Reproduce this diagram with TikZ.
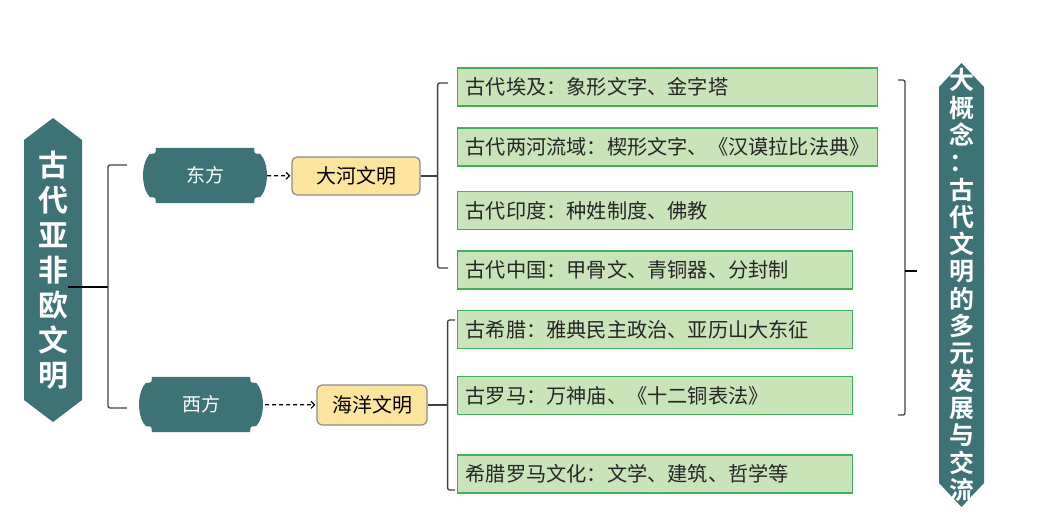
\documentclass[tikz,border=0pt]{standalone}
\usepackage{fontspec}
\setmainfont{Noto Sans CJK SC}[BoldFont=* Bold]
\usepackage{tikz}
\usetikzlibrary{calc,backgrounds,arrows.meta}
\definecolor{tealbg}{HTML}{3D7377}
\definecolor{boxyellow}{HTML}{FDE59E}
\definecolor{boxgreen}{HTML}{C9E4B9}
\definecolor{edgegreen}{HTML}{45AD5E}

\begin{document}
\begin{tikzpicture}[x=1pt,y=-1pt,>={Straight Barb[length=3.5pt,width=7pt]},
    title/.style={text=white,font=\bfseries\fontsize{30}{35}\selectfont,align=center,inner sep=0pt},
    plaque/.style={text=white,font=\fontsize{19}{19}\selectfont,minimum width=110pt,minimum height=55pt,inner sep=0pt},
    civ/.style={draw=black!45,fill=boxyellow,rounded corners=5pt,line width=1.2pt,font=\fontsize{20}{20}\selectfont,minimum height=38pt,inner sep=0pt},
    fact/.style={draw=edgegreen,fill=boxgreen,line width=1.2pt,font=\fontsize{20.2}{21}\selectfont,minimum height=38pt,inner xsep=8pt,inner ysep=0pt,align=left,text=black!85},
    link/.style={line width=1.3pt,draw=black!75,rounded corners=2pt},
    stub/.style={line width=2.5pt},
    flow/.style={line width=1.2pt,dash pattern=on 4pt off 3pt,->}
  ]
  \useasboundingbox (0,0) rectangle (1040,523);

  % Titles on both sides
  \node[title] (ttl) at (53,270) {古\\代\\亚\\非\\欧\\文\\明};
  \node[title,font=\bfseries\fontsize{25}{27.3}\selectfont] (big) at (961.5,285)
    {大\\概\\念\\：\\古\\代\\文\\明\\的\\多\\元\\发\\展\\与\\交\\流};

  % East and west
  \node[plaque] (east) at (205,175.5) {东方};
  \node[plaque] (west) at (201,404.5) {西方};

  \node[civ,minimum width=128pt] (dh) at (356,176) {大河文明};
  \node[civ,minimum width=110pt,minimum height=40pt] (hy) at (372,405) {海洋文明};

  % Facts for each civilisation
  \foreach \n/\y/\w/\t in {e1/87/404/{古代埃及：象形文字、金字塔},
                           e2/147/404/{古代两河流域：楔形文字、《汉谟拉比法典》},
                           e3/210.5/379/{古代印度：种姓制度、佛教},
                           e4/270/379/{古代中国：甲骨文、青铜器、分封制},
                           w1/329.5/379/{古希腊：雅典民主政治、亚历山大东征},
                           w2/395.5/379/{古罗马：万神庙、《十二铜表法》},
                           w3/474/379/{希腊罗马文化：文学、建筑、哲学等}}
    \node[fact,text width=\w pt,anchor=west] (\n) at (457,\y) {\t};

  % Backgrounds of the title shapes and plaques
  \begin{scope}[on background layer]
    \fill[tealbg] ($(ttl)+(-29,-130)$) -- ($(ttl)+(0,-152)$) -- ($(ttl)+(29,-130)$)
      -- ($(ttl)+(29,130)$) -- ($(ttl)+(0,152)$) -- ($(ttl)+(-29,130)$) -- cycle;
    \fill[tealbg] ($(big)+(-22.5,-198)$) -- ($(big)+(0,-222)$) -- ($(big)+(22.5,-198)$)
      -- ($(big)+(22.5,198)$) -- ($(big)+(0,222)$) -- ($(big)+(-22.5,198)$) -- cycle;
    \foreach \n in {east,west}
      \fill[tealbg] ($(\n.north west)+(6,0)$) -- ($(\n.north east)+(-6,0)$)
        .. controls ($(\n.north east)+(-6,6)$) .. ($(\n.north east)+(0,6)$)
        .. controls ($(\n.east)+(9,-12)$) and ($(\n.east)+(9,12)$) .. ($(\n.south east)+(0,-6)$)
        .. controls ($(\n.south east)+(-6,-6)$) .. ($(\n.south east)+(-6,0)$)
        -- ($(\n.south west)+(6,0)$)
        .. controls ($(\n.south west)+(6,-6)$) .. ($(\n.south west)+(0,-6)$)
        .. controls ($(\n.west)+(-9,12)$) and ($(\n.west)+(-9,-12)$) .. ($(\n.north west)+(0,6)$)
        .. controls ($(\n.north west)+(6,6)$) .. cycle;
  \end{scope}

  % Left bracket
  \coordinate (lb) at (108,287);
  \draw[stub] (ttl.east |- lb) -- (lb);
  \draw[link] ([shift={(-23,-10.5)}]east.west) -| (lb) |- ([shift={(-19,3.5)}]west.west);

  % Dashed arrows
  \draw[flow,shorten <=7pt,shorten >=1pt] (east) -- (dh);
  \draw[flow,shorten <=9pt,shorten >=1pt] (west) -- (hy);

  % Brackets to the facts
  \coordinate (eb) at ($(dh.east)+(17,0)$);
  \draw[link,line width=1.8pt] (dh.east) -- (eb);
  \draw[link] ([shift={(-9,-4)}]e1.west) -| (eb) |- ([shift={(-9,-2)}]e4.west);

  \coordinate (wb) at ($(hy.east)+(20,0)$);
  \draw[link,line width=1.8pt] (hy.east) -- (wb);
  \draw[link] ([shift={(-2,-9.5)}]w1.west) -| (wb) |- ([shift={(-2,16)}]w3.west);

  % Right bracket
  \coordinate (rtop) at (898,80);
  \coordinate (rbot) at (898,415);
  \coordinate (rb) at (905,271);
  \coordinate (rs) at (917,271);
  \draw[link] (rtop) -| (rb) |- (rbot);
  \draw[stub] (rb) -- (rs);
\end{tikzpicture}
\end{document}
